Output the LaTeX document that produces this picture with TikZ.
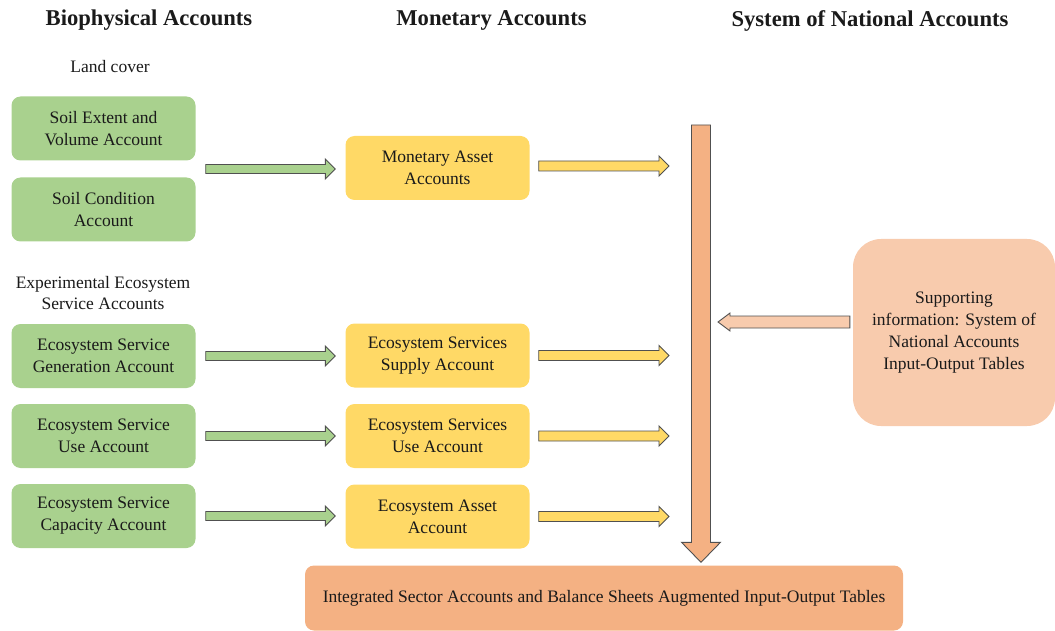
\documentclass[tikz,border=0pt]{standalone}
\usepackage{fontspec}
\setmainfont{Liberation Serif}
\usetikzlibrary{calc}
\definecolor{bgreen}{HTML}{A9D18E}
\definecolor{byellow}{HTML}{FFD966}
\definecolor{borange}{HTML}{F4B183}
\definecolor{bpeach}{HTML}{F8CBAD}
\definecolor{btext}{HTML}{1A1A1A}
\definecolor{bline}{HTML}{505050}
\tikzset{
  box/.style={rounded corners=9pt, minimum width=184pt, minimum height=64pt, align=center,
    inner sep=2pt, text=btext, font=\fontsize{17.5}{22}\selectfont},
  gbox/.style={box, fill=bgreen},
  ybox/.style={box, fill=byellow},
  hdr/.style={text=btext, font=\fontsize{22.6}{26}\selectfont\bfseries},
  lbl/.style={text=btext, align=center, font=\fontsize{17.5}{21}\selectfont},
  blockline/.style={draw=bline, line width=0.9pt, line join=miter},
}
% horizontal block arrow: fill colour, from, to, shaft half-height, head half-height, head length
\newcommand{\hblock}[6]{%
  \draw[blockline,fill=#1] let \p1=(#2), \p2=(#3), \n1={#6} in
    ({\x1},{\y1+#4}) -- ({\x2-\n1},{\y1+#4}) -- ({\x2-\n1},{\y1+#5}) -- ({\x2},{\y1})
    -- ({\x2-\n1},{\y1-#5}) -- ({\x2-\n1},{\y1-#4}) -- ({\x1},{\y1-#4}) -- cycle;}
% vertical (downward) block arrow
\newcommand{\vblock}[6]{%
  \draw[blockline,fill=#1] let \p1=(#2), \p2=(#3) in
    ({\x1-#4},{\y1}) -- ({\x1-#4},{\y2+#6}) -- ({\x1-#5},{\y2+#6}) -- ({\x1},{\y2})
    -- ({\x1+#5},{\y2+#6}) -- ({\x1+#4},{\y2+#6}) -- ({\x1+#4},{\y1}) -- cycle;}
\begin{document}
\begin{tikzpicture}[x=1pt,y=-1pt]
\useasboundingbox (0,0) rectangle (1055,631);

% headers
\node[hdr] (h1) at (149,20.5) {Biophysical Accounts};
\node[hdr] (h2) at (491.5,20.5) {Monetary Accounts};
\node[hdr] (h3) at (870,20.5) {System of National Accounts};
\node[lbl] (land) at (110,67) {Land cover};
\node[lbl] (exp) at (103,293) {Experimental Ecosystem\\Service Accounts};

% green boxes
\node[gbox] (g1) at (103.5,128.5) {Soil Extent and\\Volume Account};
\node[gbox] (g2) at (103.5,209.5) {Soil Condition\\Account};
\node[gbox] (g3) at (103.5,356) {Ecosystem Service\\Generation Account};
\node[gbox] (g4) at (103.5,436) {Ecosystem Service\\Use Account};
\node[gbox] (g5) at (103.5,516) {Ecosystem Service\\Capacity Account};

% yellow boxes
\node[ybox] (m1) at (437.5,168) {Monetary Asset\\Accounts};
\node[ybox] (m2) at (437.5,355.5) {Ecosystem Services\\Supply Account};
\node[ybox] (m3) at (437.5,436) {Ecosystem Services\\Use Account};
\node[ybox] (m4) at (437.5,516.5) {Ecosystem Asset\\Account};

% supporting box and bottom box
\node[box, fill=bpeach, rounded corners=28pt, minimum width=202pt, minimum height=187pt]
  (sup) at (954,332.5) {Supporting\\information: System of\\National Accounts\\Input-Output Tables};
\node[box, fill=borange, minimum width=598pt, minimum height=65pt]
  (bot) at (604,598) {Integrated Sector Accounts and Balance Sheets Augmented Input-Output Tables};

% vertical arrow end points
\coordinate (vtop) at (701,125);
\coordinate (vtip) at ($(bot.north -| vtop)+(0,-3)$);

% green arrows
\hblock{bgreen}{$(g1.south east)!0.5!(g2.north east)+(10,0)$}{$(m1.west)+(-10,0)$}{4.5pt}{10pt}{10pt}
\hblock{bgreen}{$(g3.east)+(10,0)$}{$(m2.west)+(-10,0)$}{4.5pt}{10pt}{10pt}
\hblock{bgreen}{$(g4.east)+(10,0)$}{$(m3.west)+(-10,0)$}{4.5pt}{10pt}{10pt}
\hblock{bgreen}{$(g5.east)+(10,0)$}{$(m4.west)+(-10,0)$}{4.5pt}{10pt}{10pt}

% yellow arrows
\hblock{byellow}{$(m1.east)+(9,-2)$}{$(m1.east -| vtop)+(-32,-2)$}{5pt}{10pt}{10pt}
\hblock{byellow}{$(m2.east)+(9,0)$}{$(m2.east -| vtop)+(-32,0)$}{5pt}{10pt}{10pt}
\hblock{byellow}{$(m3.east)+(9,0)$}{$(m3.east -| vtop)+(-32,0)$}{5pt}{10pt}{10pt}
\hblock{byellow}{$(m4.east)+(9,0)$}{$(m4.east -| vtop)+(-32,0)$}{5pt}{10pt}{10pt}

% vertical arrow into the bottom box
\vblock{borange}{vtop}{vtip}{9.5pt}{19.5pt}{20pt}

% arrow from supporting information
\hblock{bpeach}{$(sup.west)+(-3,-10.5)$}{$(vtop |- sup.west)+(17,-10.5)$}{6pt}{9pt}{-12pt}

\end{tikzpicture}
\end{document}
